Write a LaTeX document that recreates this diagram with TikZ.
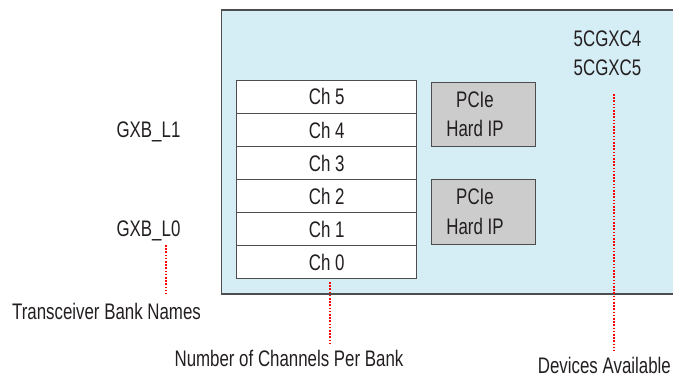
\documentclass[tikz,border=0pt]{standalone}
\usepackage{fontspec}
\setmainfont{Liberation Sans}[FakeStretch=0.75]
\definecolor{bankblue}{HTML}{D5EDF4}
\definecolor{hipgray}{HTML}{CCCCCC}
\definecolor{edge}{HTML}{4D4D4D}
\definecolor{ink}{HTML}{231F20}
\begin{document}
\begin{tikzpicture}[x=1pt,y=-1pt,
  every node/.style={font=\fontsize{22.5}{26}\selectfont, text=ink, inner sep=0pt},
  chbox/.style={draw=edge, line width=1.2pt, fill=white},
  hipbox/.style={draw=edge, line width=1.2pt, fill=hipgray},
  lbl/.style={anchor=base},
  reddot/.style={red, line width=1.8pt, dash pattern=on 1.6pt off 1.6pt}]
\useasboundingbox (0,0) rectangle (673,379);
% device area
\fill[bankblue] (221.7,10) rectangle (673,294);
\draw[edge, line width=1.2pt] (673,10) -- (221.7,10) -- (221.7,294) -- (673,294);
% channel stack
\foreach \i/\t in {0/80.3,1/113.3,2/146.3,3/179.7,4/212.3,5/245.7}{
  \draw[chbox] (236.7,\t) rectangle (416.7,\t+33);
}
\node[lbl] (ch5) at (326.7,105) {Ch 5};
\node[lbl] (ch4) at (326.7,138.3) {Ch 4};
\node[lbl] (ch3) at (326.7,171.3) {Ch 3};
\node[lbl] (ch2) at (326.7,204.5) {Ch 2};
\node[lbl] (ch1) at (326.7,237.5) {Ch 1};
\node[lbl] (ch0) at (326.7,270.5) {Ch 0};
% PCIe hard IP
\draw[hipbox] (431.7,82.3) rectangle (535.3,146.7);
\draw[hipbox] (431.7,179.7) rectangle (535.3,244.3);
\node[lbl] (p1a) at (475,107.3) {PCIe};
\node[lbl] (p1b) at (475,136.7) {Hard IP};
\node[lbl] (p0a) at (475,204.3) {PCIe};
\node[lbl] (p0b) at (475,234.3) {Hard IP};
% devices
\node[lbl] (dev4) at (607.5,46.7) {5CGXC4};
\node[lbl] (dev5) at (607.5,75.3) {5CGXC5};
% bank names
\node[lbl] (gxbl1) at (148.5,137.7) {GXB\_L1};
\node[lbl] (gxbl0) at (148.5,236.7) {GXB\_L0};
% captions
\node[lbl] (tbn) at (106.5,320) {Transceiver Bank Names};
\node[lbl] (ncpb) at (289,366.7) {Number of Channels Per Bank};
\node[lbl, anchor=base east] (dva) at (671,374) {Devices Available};
% dotted leaders
\coordinate (a1) at (165.7,245);
\coordinate (a2) at (165.7,294);
\coordinate (b1) at (330,282);
\coordinate (b2) at (330,343);
\coordinate (c1) at (614,94);
\coordinate (c2) at (614,351);
\draw[reddot] (a1) -- (a2);
\draw[reddot] (b1) -- (b2);
\draw[reddot] (c1) -- (c2);
\end{tikzpicture}
\end{document}
